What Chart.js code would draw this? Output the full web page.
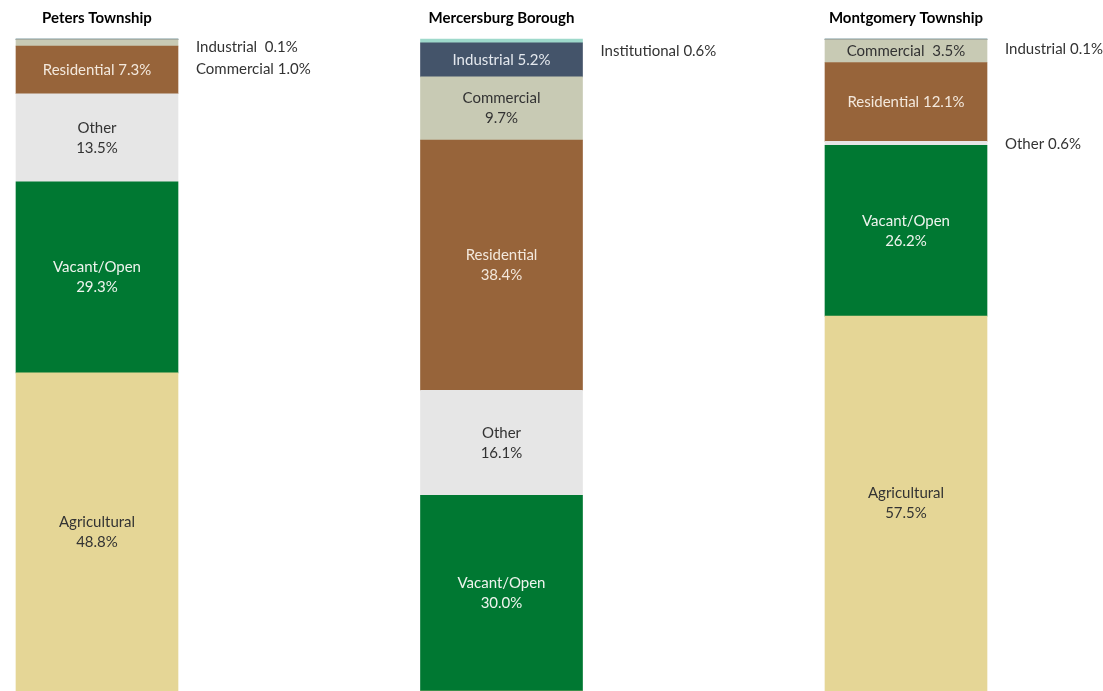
<!DOCTYPE html>
<html lang="en">
<head>
  <meta charset="UTF-8">
  <title>Land Use by Municipality</title>
  <script src="https://cdn.jsdelivr.net/npm/chart.js"></script>
  <style>
    html, body { margin: 0; padding: 0; background: #ffffff; }
    .chart-box { position: relative; width: 1103px; height: 691px; }
  </style>
</head>
<body>
  <div class="chart-box">
    <canvas id="landUseChart"></canvas>
  </div>

  <script>
    // Data (percent of total area)
    const townships = ['Peters Township', 'Mercersburg Borough', 'Montgomery Township'];
    const landUses = ['Agricultural', 'Vacant/Open', 'Other', 'Residential', 'Commercial', 'Industrial', 'Institutional'];

    const agricultural  = [48.8, 0,    57.5];
    const vacantOpen    = [29.3, 30.0, 26.2];
    const other         = [13.5, 16.1, 0.6];
    const residential   = [7.3,  38.4, 12.1];
    const commercial    = [1.0,  9.7,  3.5];
    const industrial    = [0.1,  5.2,  0.1];
    const institutional = [0,    0.6,  0];

    const seriesValues = [agricultural, vacantOpen, other, residential, commercial, industrial, institutional];

    const fillColors = ['#E5D696', '#007832', '#E6E6E6', '#97643A', '#C8CAB4', '#44546A', '#9ED9CB'];
    const textColors = ['#333333', '#EEF4EE', '#333333', '#F3E8DC', '#333333', '#E4E8EE', '#333333'];

    // how each label is shown: 'two' = name over value, 'one' = single line, 'out' = beside the bar
    // [township][landUse] -> { mode, gap (text between name and value), dy (outside only) }
    const labelStyle = [
      [{ mode: 'two' }, { mode: 'two' }, { mode: 'two' }, { mode: 'one', gap: ' ' },
       { mode: 'out', gap: ' ', dy: 26 }, { mode: 'out', gap: '  ', dy: 8 }, null],
      [null, { mode: 'two' }, { mode: 'two' }, { mode: 'two' }, { mode: 'two' },
       { mode: 'one', gap: ' ' }, { mode: 'out', gap: ' ', dy: 10 }],
      [{ mode: 'two' }, { mode: 'two' }, { mode: 'out', gap: ' ', dy: 1 }, { mode: 'one', gap: ' ' },
       { mode: 'one', gap: '  ' }, { mode: 'out', gap: ' ', dy: 10 }, null]
    ];

    const FONT = 'Lato, "Noto Sans", sans-serif';

    const labelPlugin = {
      id: 'segmentLabels',
      afterDatasetsDraw(chart) {
        const ctx = chart.ctx;
        ctx.save();
        ctx.textBaseline = 'middle';

        // township titles above each bar
        const first = chart.getDatasetMeta(1).data;
        ctx.font = 'bold 15px ' + FONT;
        ctx.fillStyle = '#000000';
        ctx.textAlign = 'center';
        townships.forEach((name, j) => {
          ctx.fillText(name, first[j].x, 18);
        });

        chart.data.datasets.forEach((ds, i) => {
          const meta = chart.getDatasetMeta(i);
          meta.data.forEach((bar, j) => {
            const value = ds.data[j];
            const st = labelStyle[j][i];
            if (!value || !st) return;
            const cy = (bar.y + bar.base) / 2;
            const valText = value.toFixed(1) + '%';
            ctx.font = '15px ' + FONT;
            if (st.mode === 'two') {
              ctx.textAlign = 'center';
              ctx.fillStyle = textColors[i];
              ctx.fillText(landUses[i], bar.x, cy - 10);
              ctx.fillText(valText, bar.x, cy + 10);
            } else if (st.mode === 'one') {
              ctx.textAlign = 'center';
              ctx.fillStyle = textColors[i];
              ctx.fillText(landUses[i] + st.gap + valText, bar.x, cy);
            } else {
              ctx.textAlign = 'left';
              ctx.fillStyle = '#333333';
              ctx.fillText(landUses[i] + st.gap + valText, bar.x + bar.width / 2 + 18, cy + st.dy);
            }
          });
        });
        ctx.restore();
      }
    };

    const ctx = document.getElementById('landUseChart').getContext('2d');
    new Chart(ctx, {
      type: 'bar',
      data: {
        labels: townships,
        datasets: landUses.map((name, i) => ({
          label: name,
          data: seriesValues[i],
          backgroundColor: fillColors[i],
          borderWidth: 0,
          barThickness: 162,
          clip: false
        }))
      },
      options: {
        responsive: true,
        maintainAspectRatio: false,
        animation: false,
        layout: {
          padding: { left: 97, right: 197, top: 39, bottom: 0 }
        },
        plugins: {
          legend: { display: false },
          tooltip: { enabled: false }
        },
        scales: {
          x: {
            display: false,
            stacked: true,
            offset: false
          },
          y: {
            display: false,
            stacked: true,
            min: 0,
            max: 100
          }
        }
      },
      plugins: [labelPlugin]
    });
  </script>
</body>
</html>
